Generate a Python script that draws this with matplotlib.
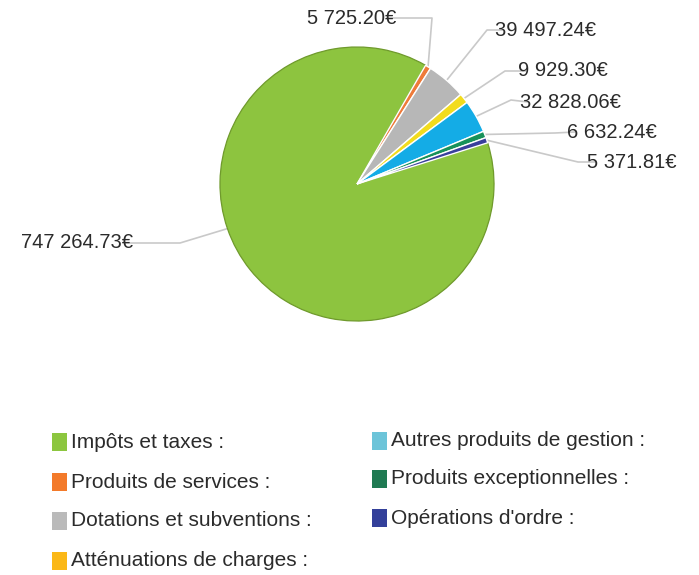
"""Pie chart: recettes de fonctionnement par chapitre, with leader-line labels."""

import matplotlib.pyplot as plt
import numpy as np

plt.rcParams["font.family"] = ["Liberation Sans", "DejaVu Sans"]

# --- data
categories = [
    "Impôts et taxes :",
    "Produits de services :",
    "Dotations et subventions :",
    "Atténuations de charges :",
    "Autres produits de gestion :",
    "Produits exceptionnelles :",
    "Opérations d'ordre :",
]
values = [747264.73, 5725.20, 39497.24, 9929.30, 32828.06, 6632.24, 5371.81]
value_labels = ["747 264.73€", "5 725.20€", "39 497.24€", "9 929.30€",
                "32 828.06€", "6 632.24€", "5 371.81€"]

pie_colors = ["#8dc43f", "#ee7b3a", "#b7b7b7", "#f2dc1e", "#14ace6", "#17915a", "#393f9c"]
legend_colors = ["#8cc63f", "#f37a2a", "#bababa", "#fbb817", "#6cc4d9", "#1f7a52", "#33409a"]

W, H = 699, 575
TXT = "#2b2b2b"
LEAD = "#c9c9c9"


def Y(y):
    # image pixel row -> data y
    return H - y


fig = plt.figure(figsize=(W / 100, H / 100), dpi=100)
ax = fig.add_axes([0, 0, 1, 1])

cx, cy, r = 357, Y(184), 137
explode = [0] + [0.035] * 6
wedges, _ = ax.pie(values, colors=pie_colors, startangle=17.5, counterclock=False,
                   center=(cx, cy), radius=r, explode=explode, frame=True,
                   wedgeprops=dict(linewidth=1.0, edgecolor="white"))
wedges[0].set_edgecolor("#6f9a2c")
wedges[0].set_linewidth(0.9)
ax.set_xlim(0, W)
ax.set_ylim(0, H)
ax.set_aspect("equal")
ax.axis("off")

# label layout: (text x, text y, ha, elbow x, elbow y, anchor angle or None)
layout = [
    (133, 243, "right", 180, 243, 199),
    (396, 18, "right", 432, 18, None),
    (495, 30, "left", 487, 30, None),
    (518, 71, "left", 505, 71, None),
    (520, 102, "left", 511, 100, None),
    (567, 132, "left", 555, 133, None),
    (587, 162, "left", 578, 162, None),
]

for w, lab, (tx, ty, ha, ex, ey, ang) in zip(wedges, value_labels, layout):
    if ang is None:
        ang = (w.theta1 + w.theta2) / 2
    px = w.center[0] + w.r * np.cos(np.radians(ang))
    py = w.center[1] + w.r * np.sin(np.radians(ang))
    gap = -8 if ha == "left" else 8
    ax.plot([px, ex, tx - gap], [py, Y(ey), Y(ty)], color=LEAD, lw=1.2,
            zorder=0, solid_capstyle="butt")
    ax.text(tx, Y(ty), lab, ha=ha, va="center", fontsize=14.5, color=TXT)

# --- legend (two columns)
left_rows = [442, 482, 521, 561]
right_rows = [441, 479, 518]
positions = [(52, y) for y in left_rows] + [(372, y) for y in right_rows]
for (lx, ly), name, col in zip(positions, categories, legend_colors):
    ax.add_patch(plt.Rectangle((lx, Y(ly) - 9), 15, 18, color=col, lw=0))
    ax.text(lx + 19, Y(ly), name, ha="left", va="center", fontsize=15, color=TXT)

fig.savefig("out.png", dpi=100)
